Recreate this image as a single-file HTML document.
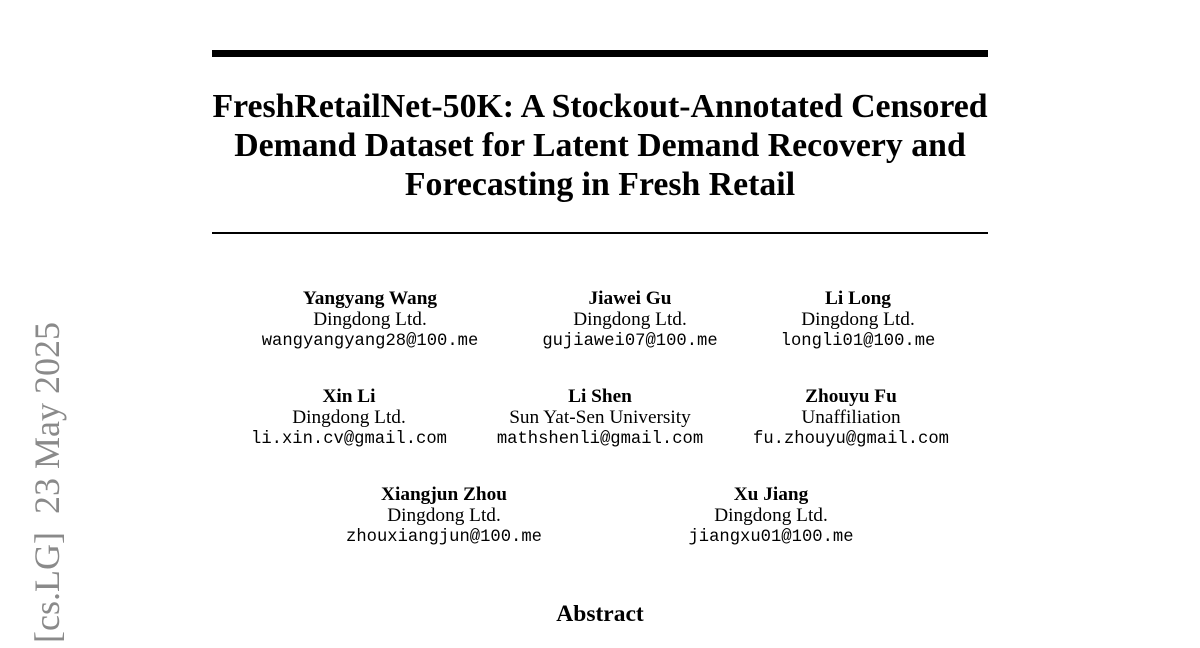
<!DOCTYPE html>
<html style="overflow:hidden;width:1200px;height:648px"><head><meta charset="utf-8"><style>
body{margin:0;width:1200px;height:648px;background:#fff;position:relative;overflow:hidden;font-family:"Liberation Serif",serif;color:#000}
.a{position:absolute;white-space:nowrap}
.c{transform:translateX(-50%);text-align:center}
.t{font-weight:bold;font-size:33.8px;line-height:39px;left:600px;top:87px}
.au{font-size:19.3px;line-height:21px}
.au b{display:block}
.m{font-family:"Liberation Mono",monospace;font-size:17.2px;line-height:24px;display:block}
.side{position:absolute;left:0;top:0;width:1000px;text-align:right;transform-origin:0 0;transform:translate(26px,1322px) rotate(-90deg);font-size:36px;line-height:42px;color:#8a8a8a;white-space:nowrap}
</style></head><body>
<div class="a" style="left:212px;top:50px;width:776px;height:7px;background:#000"></div>
<div class="a c t">FreshRetailNet-50K: A Stockout-Annotated Censored<br>Demand Dataset for Latent Demand Recovery and<br>Forecasting in Fresh Retail</div>
<div class="a" style="left:212px;top:232px;width:776px;height:2px;background:#000"></div>

<div class="a c au" style="left:370px;top:288px"><b>Yangyang Wang</b>Dingdong Ltd.<span class="m">wangyangyang28@100.me</span></div>
<div class="a c au" style="left:630px;top:288px"><b>Jiawei Gu</b>Dingdong Ltd.<span class="m">gujiawei07@100.me</span></div>
<div class="a c au" style="left:858px;top:288px"><b>Li Long</b>Dingdong Ltd.<span class="m">longli01@100.me</span></div>

<div class="a c au" style="left:349px;top:386px"><b>Xin Li</b>Dingdong Ltd.<span class="m">li.xin.cv@gmail.com</span></div>
<div class="a c au" style="left:600px;top:386px"><b>Li Shen</b>Sun Yat-Sen University<span class="m">mathshenli@gmail.com</span></div>
<div class="a c au" style="left:851px;top:386px"><b>Zhouyu Fu</b>Unaffiliation<span class="m">fu.zhouyu@gmail.com</span></div>

<div class="a c au" style="left:444px;top:484px"><b>Xiangjun Zhou</b>Dingdong Ltd.<span class="m">zhouxiangjun@100.me</span></div>
<div class="a c au" style="left:771px;top:484px"><b>Xu Jiang</b>Dingdong Ltd.<span class="m">jiangxu01@100.me</span></div>

<div class="a c" style="left:600px;top:601px;font-weight:bold;font-size:23.5px">Abstract</div>

<div class="side">arXiv:2505.17165v1&nbsp; [cs.LG]&nbsp; 23 May 2025</div>
</body></html>
